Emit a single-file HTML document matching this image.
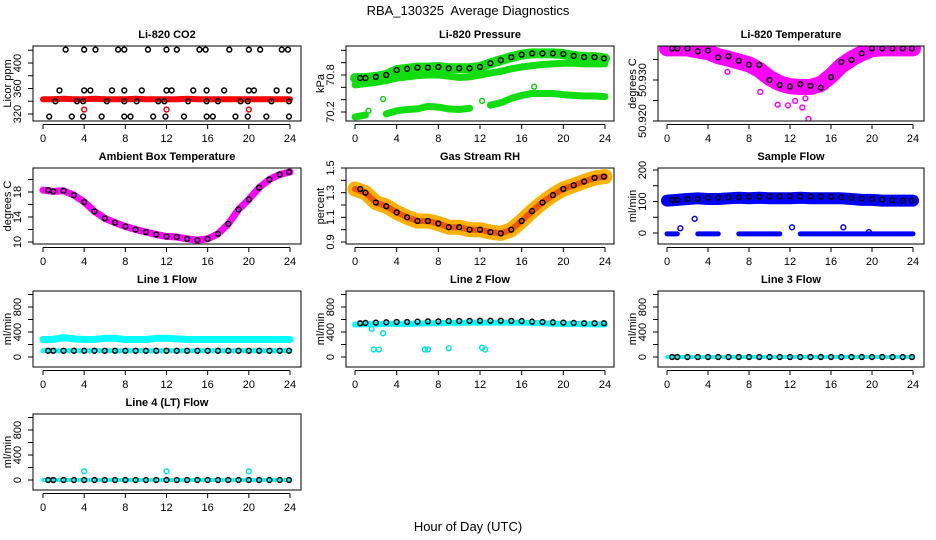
<!DOCTYPE html>
<html><head><meta charset="utf-8"><style>
html,body{margin:0;padding:0;background:#fff;}
svg{display:block;font-family:"Liberation Sans",sans-serif;}
</style></head><body>
<svg id="chart" width="936" height="540" viewBox="0 0 936 540" xmlns="http://www.w3.org/2000/svg">
<rect x="0" y="0" width="936" height="540" fill="#fff"/>
<text x="468" y="15" font-size="13" text-anchor="middle" style="white-space:pre">RBA_130325  Average Diagnostics</text>
<text x="468" y="531" font-size="13" text-anchor="middle">Hour of Day (UTC)</text>
</svg>
<script>
// ---------- data ----------
const hours = [0,1,2,3,4,5,6,7,8,9,10,11,12,13,14,15,16,17,18,19,20,21,22,23,24];
const xTicks = [0,4,8,12,16,20,24];

// CO2
const co2TopHours = [2.2,4,5.1,7.3,7.9,10.2,12,13,15.2,15.8,18.1,20,21.1,23.2,23.8];
const co2TopVal = 421;
const co2HiHours = [1.6,4,4.6,6.7,7.9,9.6,12,12.5,14.6,15.9,17.6,20,20.5,22.7,23.9];
const co2HiVal = 357;
const co2MidHours = [1.2,3.3,3.9,6.2,7.9,9.1,11.2,11.8,14.1,15.9,17,19.2,19.9,22.2,23.9];
const co2MidVal = 340;
const co2LowHours = [0.6,2.8,3.9,5.7,7.9,8.5,10.7,11.9,13.7,15.9,16.5,18.7,19.9,21.7,23.9];
const co2LowVal = 316;
const co2Band = [343,343,344,343,343,344,343,343,343,344,343,343,343,343,344,343,343,343,343,343,343,343,343,343,343];
const co2RedOutHours = [4,12,20];
const co2RedOutVals = [327,327,327];

// Pressure
const presTop = [70.75,70.75,70.77,70.8,70.88,70.9,70.92,70.92,70.93,70.91,70.91,70.91,70.93,70.99,71.04,71.09,71.13,71.15,71.15,71.15,71.14,71.11,71.09,71.09,71.07];
const presMid = [70.64,70.66,70.68,70.71,70.75,70.77,70.79,70.8,70.8,70.78,70.76,70.77,70.8,70.83,70.86,70.9,70.93,70.95,70.97,70.98,70.99,70.99,70.98,70.98,70.98];
const presLow = [70.12,70.15,null,70.17,70.22,70.24,70.25,70.29,70.28,70.25,70.24,70.26,null,70.31,70.35,70.42,70.47,70.5,70.5,70.5,70.48,70.47,70.46,70.46,70.45];
const presOutHours = [1.3,2.7,12.2,17.2];
const presOutVals = [70.22,70.41,70.38,70.61];

// Li-820 temperature
const tempBlack = [50.9377,50.9377,50.9377,50.9370,50.9372,50.9355,50.9358,50.9347,50.9337,50.9337,50.9300,50.9288,50.9284,50.9290,50.9286,50.9281,50.9307,50.9344,50.9349,50.9365,50.9377,50.9377,50.9377,50.9377,50.9377];
const tempBand = [50.9377,50.9377,50.9377,50.9372,50.9368,50.9358,50.9352,50.9345,50.9338,50.9325,50.9305,50.9292,50.9285,50.9283,50.9283,50.9290,50.9310,50.9335,50.9352,50.9365,50.9375,50.9377,50.9377,50.9377,50.9377];
const tempOutHours = [13.8,10.8,11.8,13.2,5.9,9.1,12.5,13.5];
const tempOutVals = [50.9205,50.9240,50.9238,50.9233,50.9320,50.9271,50.9249,50.9255];

// Ambient box temperature
const ambTemp = [18.3,18.1,18.2,17.5,16.4,14.9,13.8,13.1,12.5,12.0,11.6,11.2,10.9,10.8,10.5,10.3,10.5,11.3,12.9,15.2,16.8,18.7,20.0,20.8,21.2];

// Gas stream RH
const rhVals = [1.33,1.30,1.22,1.19,1.14,1.10,1.07,1.07,1.05,1.02,1.02,1.00,1.00,0.98,0.97,1.00,1.07,1.15,1.22,1.28,1.33,1.36,1.39,1.42,1.43];

// Sample flow
const sfBlack = [105,105,108,108,112,112,113,113,115,115,116,116,116,116,116,116,115,113,112,110,108,106,104,103,103];
const sfBand = [103,105,108,110,108,108,110,112,110,112,110,110,110,112,110,110,110,110,108,105,105,103,103,103,103];
const sfLow = [-3,-3,null,-3,-3,-3,null,-3,-3,-3,-3,-3,null,-3,-3,-3,-3,-3,-3,-3,-3,-3,-3,-3,-3];
const sfOutHours = [1.3,2.7,12.2,17.2,19.7];
const sfOutVals = [15,45,18,18,3];

// Line 1
const l1Band = [280,280,310,290,280,280,300,300,280,280,280,300,300,290,280,280,280,280,280,280,280,280,280,280,280];
const l1Black = [100,100,100,100,100,100,100,100,100,100,100,100,100,100,100,100,100,100,100,100,100,100,100,100,100];

// Line 2
const l2Band = [520,525,525,530,530,530,535,540,540,545,545,550,550,550,550,550,550,545,540,535,530,530,525,525,520];
const l2Black = [540,545,550,555,560,560,565,570,570,575,575,578,580,580,580,578,575,565,560,555,550,545,540,540,540];
const l2OutHours = [1.6,2.7,1.8,2.3,6.7,7.0,9.0,12.2,12.5];
const l2OutVals = [450,380,120,120,120,120,140,150,120];

// Line 3
const l3Black = [0,0,0,0,0,0,0,0,0,0,0,0,0,0,0,0,0,0,0,0,0,0,0,0,0];

// Line 4
const l4Black = [0,0,0,0,0,0,0,0,0,0,0,0,0,0,0,0,0,0,0,0,0,0,0,0,0];
const l4OutHours = [4,12,20];
const l4OutVals = [140,140,140];

// ---------- layout ----------
const NS = "http://www.w3.org/2000/svg";
const svg = document.getElementById("chart");
const COLS = [{l:33,r:301,x0:43,x24:290},{l:346,r:614,x0:355,x24:605},{l:658,r:924,x0:667,x24:913}];
const ROWS = [{t:46,b:121},{t:168,b:244},{t:291,b:367},{t:414,b:490}];

function mk(tag, attrs, parent, name) {
  const e = document.createElementNS(NS, tag);
  for (const k in attrs) e.setAttribute(k, attrs[k]);
  
  
  parent.appendChild(e);
  return e;
}

function panel(id, title, ci, ri, ya, yb, yticks, ylabels, ylab) {
  const c = COLS[ci], r = ROWS[ri];
  const g = mk('g', {}, svg, id + '-panel');
  const sx = h => c.x0 + h * (c.x24 - c.x0) / 24;
  const sy = v => ya[1] + (v - ya[0]) * (yb[1] - ya[1]) / (yb[0] - ya[0]);
  const t = mk('text', {x:(c.l + c.r) / 2, y:r.t - 8, 'font-size':11, 'font-weight':'bold', 'text-anchor':'middle'}, g, id + '-title');
  t.textContent = title;
  mk('line', {x1:sx(0), x2:sx(24), y1:r.b + 3.5, y2:r.b + 3.5, stroke:'#000'}, g, id + '-x-axis');
  xTicks.forEach(h => {
    mk('line', {x1:sx(h), x2:sx(h), y1:r.b + 3.5, y2:r.b + 8, stroke:'#000'}, g, id + '-x-tick');
    const tl = mk('text', {x:sx(h), y:r.b + 21, 'font-size':11, 'text-anchor':'middle'}, g, id + '-x-tick-label');
    tl.textContent = h;
  });
  yticks.forEach(v => {
    mk('line', {x1:c.l - 5, x2:c.l, y1:sy(v), y2:sy(v), stroke:'#000'}, g, id + '-y-tick');
  });
  ylabels.forEach(v => {
    const yy = sy(v);
    const tl = mk('text', {x:c.l - 12, y:yy, 'font-size':11, 'text-anchor':'middle', transform:'rotate(-90 ' + (c.l - 12) + ' ' + yy + ')'}, g, id + '-y-tick-label');
    tl.textContent = v;
  });
  const yt = mk('text', {x:c.l - 22, y:(r.t + r.b) / 2, 'font-size':11, 'text-anchor':'middle', transform:'rotate(-90 ' + (c.l - 22) + ' ' + ((r.t + r.b) / 2) + ')'}, g, id + '-y-axis-title');
  yt.textContent = ylab;
  const clipId = id + '-clip';
  const cp = mk('clipPath', {id:clipId}, g, id + '-clip');
  mk('rect', {x:c.l, y:r.t, width:c.r - c.l, height:r.b - r.t}, cp, id + '-clip-rect');
  const plot = mk('g', {'clip-path':'url(#' + clipId + ')'}, g, id + '-plot-area');
  mk('rect', {x:c.l, y:r.t, width:c.r - c.l, height:r.b - r.t, fill:'none', stroke:'#000'}, g, id + '-frame');
  return {sx, sy, plot};
}

function band(p, xs, vals, color, w, name) {
  let segs = [], cur = [];
  xs.forEach((h, i) => {
    if (vals[i] === null) { if (cur.length) segs.push(cur); cur = []; }
    else cur.push(p.sx(h).toFixed(1) + ',' + p.sy(vals[i]).toFixed(1));
  });
  if (cur.length) segs.push(cur);
  segs.forEach(s => {
    mk('polyline', {points:s.join(' '), fill:'none', stroke:color, 'stroke-width':w, 'stroke-linecap':'round', 'stroke-linejoin':'round'}, p.plot, name);
  });
}

function pts(p, xs, vals, color, name) {
  xs.forEach((h, i) => {
    if (vals[i] === null) return;
    mk('circle', {cx:p.sx(h), cy:p.sy(vals[i]), r:2.4, fill:'none', stroke:color, 'stroke-width':1.5}, p.plot, name);
  });
}
function ptsConst(p, xs, v, color, name) {
  xs.forEach(h => {
    mk('circle', {cx:p.sx(h), cy:p.sy(v), r:2.4, fill:'none', stroke:color, 'stroke-width':1.5}, p.plot, name);
  });
}
const blackHours = hours.map((h, i) => i === 0 ? 0.5 : (i === 24 ? 23.9 : h));

// Panel 1: CO2
let p = panel('co2', 'Li-820 CO2', 0, 0, [320,114], [400,63], [320,340,360,380,400,420], [320,360,400], 'Licor ppm');
band(p, hours, co2Band, '#ff0000', 6, 'co2-red-band');
pts(p, co2RedOutHours, co2RedOutVals, '#ff0000', 'co2-red-point');
ptsConst(p, co2TopHours, co2TopVal, '#000', 'co2-black-point');
ptsConst(p, co2HiHours, co2HiVal, '#000', 'co2-black-point');
ptsConst(p, co2MidHours, co2MidVal, '#000', 'co2-black-point');
ptsConst(p, co2LowHours, co2LowVal, '#000', 'co2-black-point');

// Panel 2: Pressure
p = panel('pressure', 'Li-820 Pressure', 1, 0, [70.2,112], [70.8,75], [70.2,70.4,70.6,70.8,71.0,71.2], ['70.2','70.8'], 'kPa');
band(p, hours, presTop, '#11dd11', 10, 'pressure-top-green-band');
band(p, hours, presMid, '#11dd11', 7, 'pressure-mid-green-band');
band(p, hours, presLow, '#11dd11', 7, 'pressure-low-green-band');
pts(p, presOutHours, presOutVals, '#11cc11', 'pressure-green-outlier');
pts(p, blackHours, presTop, '#000', 'pressure-black-point');

// Panel 3: Li-820 Temperature
p = panel('licor-temp', 'Li-820 Temperature', 2, 0, [50.920,121], [50.930,80], [50.920,50.925,50.930,50.935], ['50.920','50.930'], 'degrees C');
band(p, hours, tempBand, '#ff00ff', 16, 'licor-temp-magenta-band');
pts(p, tempOutHours, tempOutVals, '#ff00ff', 'licor-temp-magenta-point');
pts(p, blackHours, tempBlack, '#000', 'licor-temp-black-point');

// Panel 4: Ambient
p = panel('ambient', 'Ambient Box Temperature', 0, 1, [10,242], [18,192], [10,12,14,16,18,20], [10,14,18], 'degrees C');
band(p, hours, ambTemp, '#ff00ff', 7, 'ambient-magenta-band');
pts(p, blackHours, ambTemp, '#000', 'ambient-black-point');

// Panel 5: RH
p = panel('rh', 'Gas Stream RH', 1, 1, [0.9,242], [1.5,168], [0.9,1.0,1.1,1.2,1.3,1.4,1.5], ['0.9','1.1','1.3','1.5'], 'percent');
band(p, hours, rhVals, '#ffb000', 15, 'rh-orange-band');
band(p, hours, rhVals, '#ee5500', 6, 'rh-red-core');
pts(p, blackHours, rhVals, '#000', 'rh-black-point');

// Panel 6: Sample flow
p = panel('sample-flow', 'Sample Flow', 2, 1, [0,233], [200,170], [0,50,100,150,200], [0,100,200], 'ml/min');
band(p, hours, sfBand, '#0000ff', 12, 'sample-flow-blue-band');
band(p, hours, sfLow, '#0000ff', 5, 'sample-flow-blue-low-band');
pts(p, sfOutHours, sfOutVals, '#0000ff', 'sample-flow-blue-outlier');
pts(p, blackHours, sfBlack, '#000', 'sample-flow-black-point');

// Panel 7: Line 1
p = panel('line1', 'Line 1 Flow', 0, 2, [0,357], [800,307], [0,200,400,600,800,1000], [0,400,800], 'ml/min');
band(p, hours, l1Band, '#00ffff', 7, 'line1-cyan-band');
band(p, hours, l1Black, '#00ffff', 5, 'line1-cyan-low-band');
pts(p, blackHours, l1Black, '#000', 'line1-black-point');

// Panel 8: Line 2
p = panel('line2', 'Line 2 Flow', 1, 2, [0,357], [800,307], [0,200,400,600,800,1000], [0,400,800], 'ml/min');
band(p, hours, l2Band, '#00ffff', 6, 'line2-cyan-band');
pts(p, l2OutHours, l2OutVals, '#00e5e5', 'line2-cyan-outlier');
pts(p, blackHours, l2Black, '#000', 'line2-black-point');

// Panel 9: Line 3
p = panel('line3', 'Line 3 Flow', 2, 2, [0,357], [800,307], [0,200,400,600,800,1000], [0,400,800], 'ml/min');
band(p, hours, l3Black, '#00ffff', 4, 'line3-cyan-band');
pts(p, blackHours, l3Black, '#000', 'line3-black-point');

// Panel 10: Line 4
p = panel('line4', 'Line 4 (LT) Flow', 0, 3, [0,480], [800,430], [0,200,400,600,800,1000], [0,400,800], 'ml/min');
band(p, hours, l4Black, '#00ffff', 4, 'line4-cyan-band');
pts(p, l4OutHours, l4OutVals, '#00e5e5', 'line4-cyan-outlier');
pts(p, blackHours, l4Black, '#000', 'line4-black-point');
</script>
</body></html>
